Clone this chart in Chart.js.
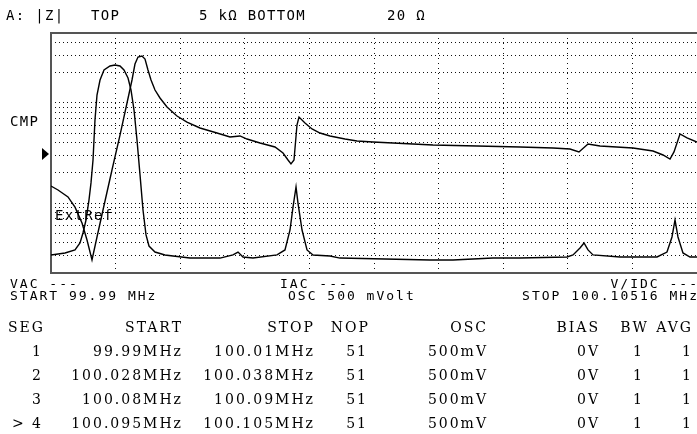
<!DOCTYPE html>
<html>
<head>
<meta charset="utf-8">
<script src="https://cdn.jsdelivr.net/npm/chart.js@4.4.1/dist/chart.umd.min.js"></script>
<style>
  html, body { margin: 0; padding: 0; background: #fff; }
  #screen { position: relative; width: 697px; height: 434px; overflow: hidden; background: #fff; color: #000; }
  #plot { position: absolute; left: 0; top: 0; }
  .mono { position: absolute; font-family: "DejaVu Sans Mono", monospace; white-space: pre; line-height: 1; }
  .big { font-size: 14px; letter-spacing: 1.3px; }
  .small { font-size: 13px; letter-spacing: 2px; }
  .cell { position: absolute; font-family: "DejaVu Serif", serif; font-size: 14px; letter-spacing: 2px; white-space: pre; line-height: 1; }
  #marker { position: absolute; left: 42px; top: 148px; width: 0; height: 0;
    border-top: 6px solid transparent; border-bottom: 6px solid transparent; border-left: 7px solid #000; }
</style>
</head>
<body>
<div id="screen">
  <canvas id="plot" width="697" height="434"></canvas>

  <div class="mono big" style="left:6px; top:8px;">A: |Z|</div>
  <div class="mono big" style="left:91px; top:8px;">TOP</div>
  <div class="mono big" style="left:199px; top:8px;">5 kΩ BOTTOM</div>
  <div class="mono big" style="left:387px; top:8px;">20 Ω</div>

  <div class="mono big" style="left:10px; top:114px;">CMP</div>
  <div id="marker"></div>
  <div class="mono big" style="left:55px; top:208px;">ExtRef</div>

  <div class="mono small" style="left:10px; top:277px;">VAC ---</div>
  <div class="mono small" style="left:10px; top:289px;">START 99.99 MHz</div>
  <div class="mono small" style="left:280px; top:277px;">IAC ---</div>
  <div class="mono small" style="left:288px; top:289px;">OSC 500 mVolt</div>
  <div class="mono small" style="right:-2px; top:277px;">V/IDC ---</div>
  <div class="mono small" style="right:-2px; top:289px;">STOP 100.10516 MHz</div>

  <div id="segTable"></div>
</div>

<script>
// sweep and display range
const sweepStart = 99.99;      // MHz
const sweepStop = 100.10516;   // MHz
const zTop = 5000;             // ohm
const zBottom = 20;            // ohm
const xDivisions = 10;
const zGridOhm = [20, 30, 40, 50, 60, 70, 80, 90, 100, 200, 300, 400, 500, 600, 700, 800, 900, 1000, 2000, 3000, 4000, 5000];

// trace with the rounded peak (lower one)
const traceAFreq = [99.99000, 99.99250, 99.99428, 99.99517, 99.99570, 99.99624, 99.99677, 99.99713, 99.99749, 99.99784,
  99.99820, 99.99874, 99.99945, 100.00052, 100.00141, 100.00230, 100.00301, 100.00373, 100.00426, 100.00480,
  100.00533, 100.00587, 100.00640, 100.00694, 100.00747, 100.00854, 100.01032, 100.01175, 100.01478, 100.02013,
  100.02244, 100.02334, 100.02423, 100.02601, 100.03029, 100.03171, 100.03261, 100.03314, 100.03368, 100.03403,
  100.03475, 100.03564, 100.03671, 100.03974, 100.04152, 100.05756, 100.06166, 100.06879, 100.07361, 100.08199,
  100.08306, 100.08430, 100.08502, 100.08573, 100.08662, 100.09143, 100.09803, 100.09981, 100.10070, 100.10124,
  100.10177, 100.10266, 100.10391, 100.10516];
const traceAOhm = [30.3, 31.7, 34.0, 39.9, 50.2, 67.7, 107, 159, 269, 676,
  1201, 1696, 2135, 2340, 2394, 2340, 2135, 1776, 1347, 850,
  426, 191, 85.2, 48, 37.2, 32.4, 30.3, 29.6, 28.2, 28.2,
  30.3, 32.4, 28.9, 28.2, 30.3, 34.0, 53.8, 91, 145, 100,
  53.8, 34.0, 30.3, 29.6, 28.2, 27.0, 27.0, 28.2, 28.2, 28.9,
  30.3, 35.6, 39.9, 34.0, 30.3, 28.9, 28.9, 32.4, 45.8, 67.7,
  45.8, 31.7, 28.9, 28.9];

// trace with the V dip and sharp peak (upper one)
const traceBFreq = [99.99000, 99.99125, 99.99303, 99.99428, 99.99553, 99.99642, 99.99731, 99.99820, 99.99927, 100.00087,
  100.00230, 100.00355, 100.00444, 100.00497, 100.00551, 100.00622, 100.00676, 100.00729, 100.00783, 100.00854,
  100.00943, 100.01068, 100.01246, 100.01424, 100.01656, 100.01959, 100.02191, 100.02369, 100.02494, 100.02726,
  100.02993, 100.03136, 100.03225, 100.03278, 100.03332, 100.03385, 100.03421, 100.03528, 100.03653, 100.03795,
  100.03974, 100.04241, 100.04455, 100.04740, 100.05097, 100.05810, 100.06594, 100.07361, 100.07949, 100.08252,
  100.08412, 100.08573, 100.08787, 100.09375, 100.09732, 100.09910, 100.10035, 100.10106, 100.10213, 100.10338,
  100.10516];
const traceBOhm = [148, 135, 115, 91, 63.2, 42.7, 27.0, 45.8, 85.2, 214,
  478, 999, 1696, 2450, 2879, 2946, 2749, 2135, 1696, 1347,
  1121, 911, 741, 645, 562, 501, 457, 468, 436, 398,
  363, 316, 269, 246, 269, 602, 724, 631, 550, 501,
  468, 436, 417, 407, 398, 380, 372, 363, 355, 347,
  324, 389, 372, 355, 331, 302, 275, 324, 490, 447,
  407];

// segment table
const tableHeads = ['SEG', 'START', 'STOP', 'NOP', 'OSC', 'BIAS', 'BW', 'AVG'];
const segNo = ['1', '2', '3', '> 4'];
const segStart = ['99.99MHz', '100.028MHz', '100.08MHz', '100.095MHz'];
const segStop = ['100.01MHz', '100.038MHz', '100.09MHz', '100.105MHz'];
const segNop = ['51', '51', '51', '51'];
const segOsc = ['500mV', '500mV', '500mV', '500mV'];
const segBias = ['0V', '0V', '0V', '0V'];
const segBw = ['1', '1', '1', '1'];
const segAvg = ['1', '1', '1', '1'];

const toPoints = (xs, ys) => xs.map((x, i) => ({ x: x, y: ys[i] }));

const framePlugin = {
  id: 'frame',
  beforeDatasetsDraw(chart) {
    const { ctx, chartArea: a } = chart;
    ctx.save();
    ctx.strokeStyle = '#555';
    ctx.lineWidth = 2;
    ctx.beginPath();
    ctx.moveTo(a.right + 2, a.top);
    ctx.lineTo(a.left, a.top);
    ctx.lineTo(a.left, a.bottom);
    ctx.lineTo(a.right + 2, a.bottom);
    ctx.stroke();
    ctx.restore();
  }
};

const ctx = document.getElementById('plot').getContext('2d');
new Chart(ctx, {
  type: 'line',
  data: {
    datasets: [
      { data: toPoints(traceAFreq, traceAOhm), borderColor: '#000', borderWidth: 1.4, pointRadius: 0, tension: 0, fill: false },
      { data: toPoints(traceBFreq, traceBOhm), borderColor: '#000', borderWidth: 1.4, pointRadius: 0, tension: 0, fill: false }
    ]
  },
  options: {
    responsive: false,
    animation: false,
    devicePixelRatio: 1,
    layout: { padding: { left: 51, top: 33, right: 0, bottom: 161 } },
    plugins: { legend: { display: false }, tooltip: { enabled: false } },
    scales: {
      x: {
        type: 'linear',
        min: sweepStart,
        max: sweepStop,
        ticks: { display: false },
        grid: { color: '#111', lineWidth: 1, drawTicks: false },
        border: { display: false, dash: [1, 4] },
        afterBuildTicks: axis => {
          axis.ticks = Array.from({ length: xDivisions + 1 }, (_, i) => ({ value: sweepStart + (sweepStop - sweepStart) * i / xDivisions }));
        }
      },
      y: {
        type: 'logarithmic',
        min: zBottom,
        max: zTop,
        ticks: { display: false },
        grid: { color: '#111', lineWidth: 1, drawTicks: false },
        border: { display: false, dash: [1, 3] },
        afterBuildTicks: axis => {
          axis.ticks = zGridOhm.map(v => ({ value: v }));
        }
      }
    }
  },
  plugins: [framePlugin]
});

// segment table as text
const headRight = [43, 181, 313, 368, 486, 598, 647, 691];
const valueRight = [41, 181, 313, 366, 486, 598, 642, 691];
const columns = [segNo, segStart, segStop, segNop, segOsc, segBias, segBw, segAvg];
const table = document.getElementById('segTable');

function addCell(text, right, top) {
  const div = document.createElement('div');
  div.className = 'cell';
  div.textContent = text;
  div.style.right = (697 - right - 2) + 'px';
  div.style.top = top + 'px';
  table.appendChild(div);
}

tableHeads.forEach((h, c) => addCell(h, headRight[c], 320));
columns.forEach((col, c) => {
  col.forEach((val, r) => addCell(val, valueRight[c], 344 + r * 24));
});
</script>
</body>
</html>
